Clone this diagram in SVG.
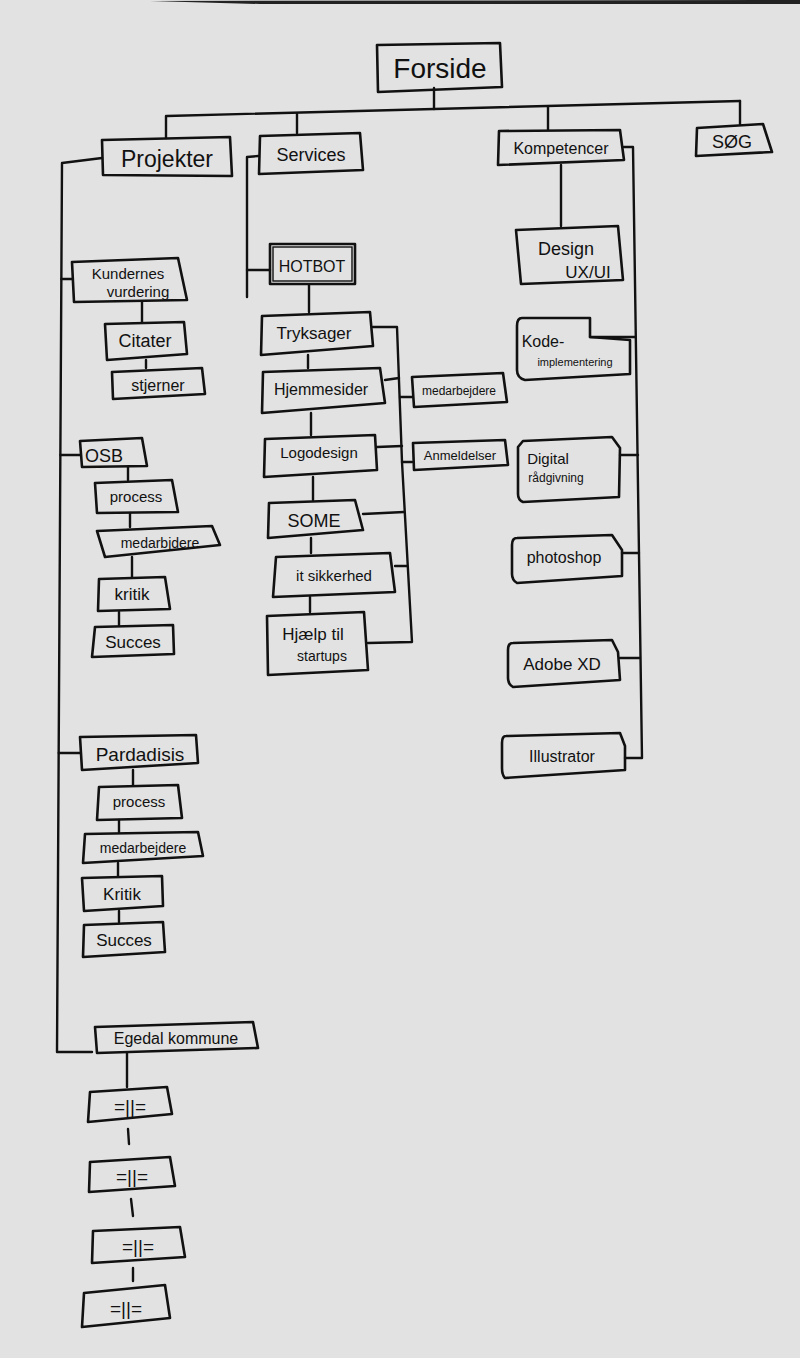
<svg xmlns="http://www.w3.org/2000/svg" width="800" height="1358" viewBox="0 0 800 1358">
<style>
.b{fill:none;stroke:#111;stroke-width:2.6;stroke-linejoin:round}
.c{fill:none;stroke:#111;stroke-width:2.4;stroke-linecap:round;stroke-linejoin:round}
text{font-family:"Liberation Sans","DejaVu Sans",sans-serif;fill:#111;text-anchor:middle}
</style>
<rect x="0" y="0" width="800" height="1358" fill="#e2e2e2"/>
<path d="M150 1 L800 0 L800 4 L260 4 Z" fill="#222"/>
<g id="connectors">
<path class="c" d="M434 88 L434 109"/>
<path class="c" d="M167 116 L740 101"/>
<path class="c" d="M166 116 L166 138"/>
<path class="c" d="M297 114 L297 133"/>
<path class="c" d="M548 107 L548 130"/>
<path class="c" d="M740 101 L740 124"/>
<path class="c" d="M102 158 L62 163 L57 1052 L92 1052"/>
<path class="c" d="M61.4 279 L72 279"/>
<path class="c" d="M142 302 L142 322"/>
<path class="c" d="M146 360 L146 368"/>
<path class="c" d="M60.4 455 L80 455"/>
<path class="c" d="M128 467 L128 480"/>
<path class="c" d="M130 513 L130 527"/>
<path class="c" d="M132 557 L132 577"/>
<path class="c" d="M119 612 L119 625"/>
<path class="c" d="M58.8 753 L80 753"/>
<path class="c" d="M133 770 L133 785"/>
<path class="c" d="M119 820 L119 832"/>
<path class="c" d="M118 863 L118 876"/>
<path class="c" d="M119 911 L119 922"/>
<path class="c" d="M127 1053 L127 1087"/>
<path class="c" d="M128 1129 L129 1144"/>
<path class="c" d="M131 1199 L133 1216"/>
<path class="c" d="M133 1268 L133 1281"/>
<path class="c" d="M258 156 L247 157 L247 297"/>
<path class="c" d="M247 270 L270 270"/>
<path class="c" d="M309 285 L309 312"/>
<path class="c" d="M308 355 L308 368"/>
<path class="c" d="M311 413 L311 435"/>
<path class="c" d="M313 477 L313 500"/>
<path class="c" d="M311 538 L311 553"/>
<path class="c" d="M310 597 L310 612"/>
<path class="c" d="M373 327 L397 327 L402 462 L412 642 L368 643"/>
<path class="c" d="M385 380 L399 378"/>
<path class="c" d="M377 447 L402 446"/>
<path class="c" d="M363 514 L404 512"/>
<path class="c" d="M395 566 L407 566"/>
<path class="c" d="M400 397 L412 397"/>
<path class="c" d="M402 462 L412 462"/>
<path class="c" d="M561 165 L561 226"/>
<path class="c" d="M624 147 L633 147 L642 758 L625 758"/>
<path class="c" d="M590 337 L635 337"/>
<path class="c" d="M620 455 L638 455"/>
<path class="c" d="M622 553 L639 553"/>
<path class="c" d="M620 658 L640 658"/>
</g>
<g id="forside"><path class="b" d="M377 45 L500 43 L502 87 L378 92 Z"/><text x="440" y="78" font-size="28">Forside</text></g>
<g id="projekter"><path class="b" d="M102 140 L230 137 L232 176 L103 175 Z"/><text x="167" y="167" font-size="23">Projekter</text></g>
<g id="services"><path class="b" d="M260 136 L360 133 L363 170 L259 174 Z"/><text x="311" y="161" font-size="18">Services</text></g>
<g id="kompetencer"><path class="b" d="M499 131 L620 130 L624 160 L498 165 Z"/><text x="561" y="154" font-size="16">Kompetencer</text></g>
<g id="sog"><path class="b" d="M697 128 L763 124 L772 152 L696 156 Z"/><text x="732" y="148" font-size="18">SØG</text></g>
<g id="kundernes"><path class="b" d="M72 262 L178 258 L187 300 L74 302 Z"/><text x="128" y="279" font-size="15">Kundernes</text><text x="138" y="297" font-size="15">vurdering</text></g>
<g id="citater"><path class="b" d="M105 324 L184 322 L187 354 L107 360 Z"/><text x="145" y="347" font-size="18">Citater</text></g>
<g id="stjerner"><path class="b" d="M112 372 L202 368 L205 394 L113 399 Z"/><text x="158" y="391" font-size="16">stjerner</text></g>
<g id="osb"><path class="b" d="M80 441 L142 438 L147 466 L82 467 Z"/><text x="104" y="462" font-size="18">OSB</text></g>
<g id="osb-process"><path class="b" d="M95 483 L172 480 L178 512 L97 513 Z"/><text x="136" y="502" font-size="15">process</text></g>
<g id="osb-medarbjdere"><path class="b" d="M97 531 L212 526 L220 545 L105 557 Z"/><text x="160" y="548" font-size="14">medarbjdere</text></g>
<g id="osb-kritik"><path class="b" d="M99 579 L165 577 L170 609 L98 611 Z"/><text x="132" y="600" font-size="17">kritik</text></g>
<g id="osb-succes"><path class="b" d="M95 627 L173 625 L174 654 L92 657 Z"/><text x="133" y="648" font-size="17">Succes</text></g>
<g id="pardadisis"><path class="b" d="M80 737 L196 735 L198 763 L82 770 Z"/><text x="140" y="761" font-size="19">Pardadisis</text></g>
<g id="par-process"><path class="b" d="M99 787 L178 785 L182 818 L97 820 Z"/><text x="139" y="807" font-size="15">process</text></g>
<g id="par-medarbejdere"><path class="b" d="M85 834 L198 832 L203 856 L83 863 Z"/><text x="143" y="853" font-size="14">medarbejdere</text></g>
<g id="par-kritik"><path class="b" d="M82 878 L162 876 L163 906 L84 911 Z"/><text x="122" y="900" font-size="17">Kritik</text></g>
<g id="par-succes"><path class="b" d="M84 925 L163 922 L165 952 L83 957 Z"/><text x="124" y="946" font-size="17">Succes</text></g>
<g id="egedal"><path class="b" d="M95 1027 L253 1022 L258 1048 L97 1053 Z"/><text x="176" y="1044" font-size="16">Egedal kommune</text></g>
<g id="ditto1"><path class="b" d="M90 1092 L167 1087 L172 1114 L88 1122 Z"/><text x="130" y="1113" font-size="19">=||=</text></g>
<g id="ditto2"><path class="b" d="M90 1162 L170 1157 L175 1186 L89 1192 Z"/><text x="132" y="1183" font-size="19">=||=</text></g>
<g id="ditto3"><path class="b" d="M93 1231 L180 1227 L185 1257 L92 1263 Z"/><text x="138" y="1253" font-size="19">=||=</text></g>
<g id="ditto4"><path class="b" d="M84 1293 L165 1285 L170 1318 L82 1327 Z"/><text x="126" y="1315" font-size="19">=||=</text></g>
<g id="hotbot"><rect x="270" y="244" width="85" height="40" class="b"/><rect x="273" y="247" width="79" height="34" fill="none" stroke="#111" stroke-width="1.4"/><text x="312" y="272" font-size="16">HOTBOT</text></g>
<g id="tryksager"><path class="b" d="M262 316 L370 312 L373 346 L261 355 Z"/><text x="314" y="339" font-size="17">Tryksager</text></g>
<g id="hjemmesider"><path class="b" d="M263 372 L380 368 L385 403 L262 413 Z"/><text x="321" y="395" font-size="16">Hjemmesider</text></g>
<g id="logodesign"><path class="b" d="M265 439 L375 435 L377 470 L264 477 Z"/><text x="319" y="458" font-size="15">Logodesign</text></g>
<g id="some"><path class="b" d="M269 503 L355 500 L363 530 L268 538 Z"/><text x="314" y="527" font-size="18">SOME</text></g>
<g id="itsikkerhed"><path class="b" d="M276 557 L390 553 L395 592 L273 597 Z"/><text x="334" y="581" font-size="15">it sikkerhed</text></g>
<g id="hjaelp"><path class="b" d="M267 616 L364 612 L368 670 L268 675 Z"/><text x="313" y="640" font-size="17">Hjælp til</text><text x="322" y="661" font-size="14">startups</text></g>
<g id="medarbejdere-s"><path class="b" d="M412 377 L503 373 L507 402 L414 407 Z"/><text x="459" y="395" font-size="12">medarbejdere</text></g>
<g id="anmeldelser"><path class="b" d="M413 443 L505 440 L508 465 L414 470 Z"/><text x="460" y="460" font-size="13">Anmeldelser</text></g>
<g id="design"><path class="b" d="M516 230 L618 226 L623 280 L521 284 Z"/><text x="566" y="255" font-size="18">Design</text><text x="588" y="278" font-size="17">UX/UI</text></g>
<g id="kode"><path class="b" d="M522 318 L590 318 L590 337 L630 340 L630 374 L525 380 Q517 378 517 370 L517 326 Q517 318 522 318 Z"/><text x="543" y="347" font-size="16">Kode-</text><text x="575" y="366" font-size="11">implementering</text></g>
<g id="digital"><path class="b" d="M523 441 L612 437 L620 448 L619 497 L523 502 Q518 500 518 494 L518 447 Z"/><text x="548" y="464" font-size="15">Digital</text><text x="556" y="482" font-size="12">rådgivning</text></g>
<g id="photoshop"><path class="b" d="M517 538 L612 535 L622 550 L622 576 L517 583 Q512 580 512 574 L512 545 Q512 538 517 538 Z"/><text x="564" y="563" font-size="16">photoshop</text></g>
<g id="adobexd"><path class="b" d="M513 643 L612 640 L618 652 L620 680 L513 687 Q508 684 508 678 L508 650 Q508 643 513 643 Z"/><text x="562" y="670" font-size="17">Adobe XD</text></g>
<g id="illustrator"><path class="b" d="M506 736 L620 733 L625 746 L625 770 L505 778 Q502 775 502 768 L502 743 Q502 736 506 736 Z"/><text x="562" y="762" font-size="16">Illustrator</text></g>
</svg>
